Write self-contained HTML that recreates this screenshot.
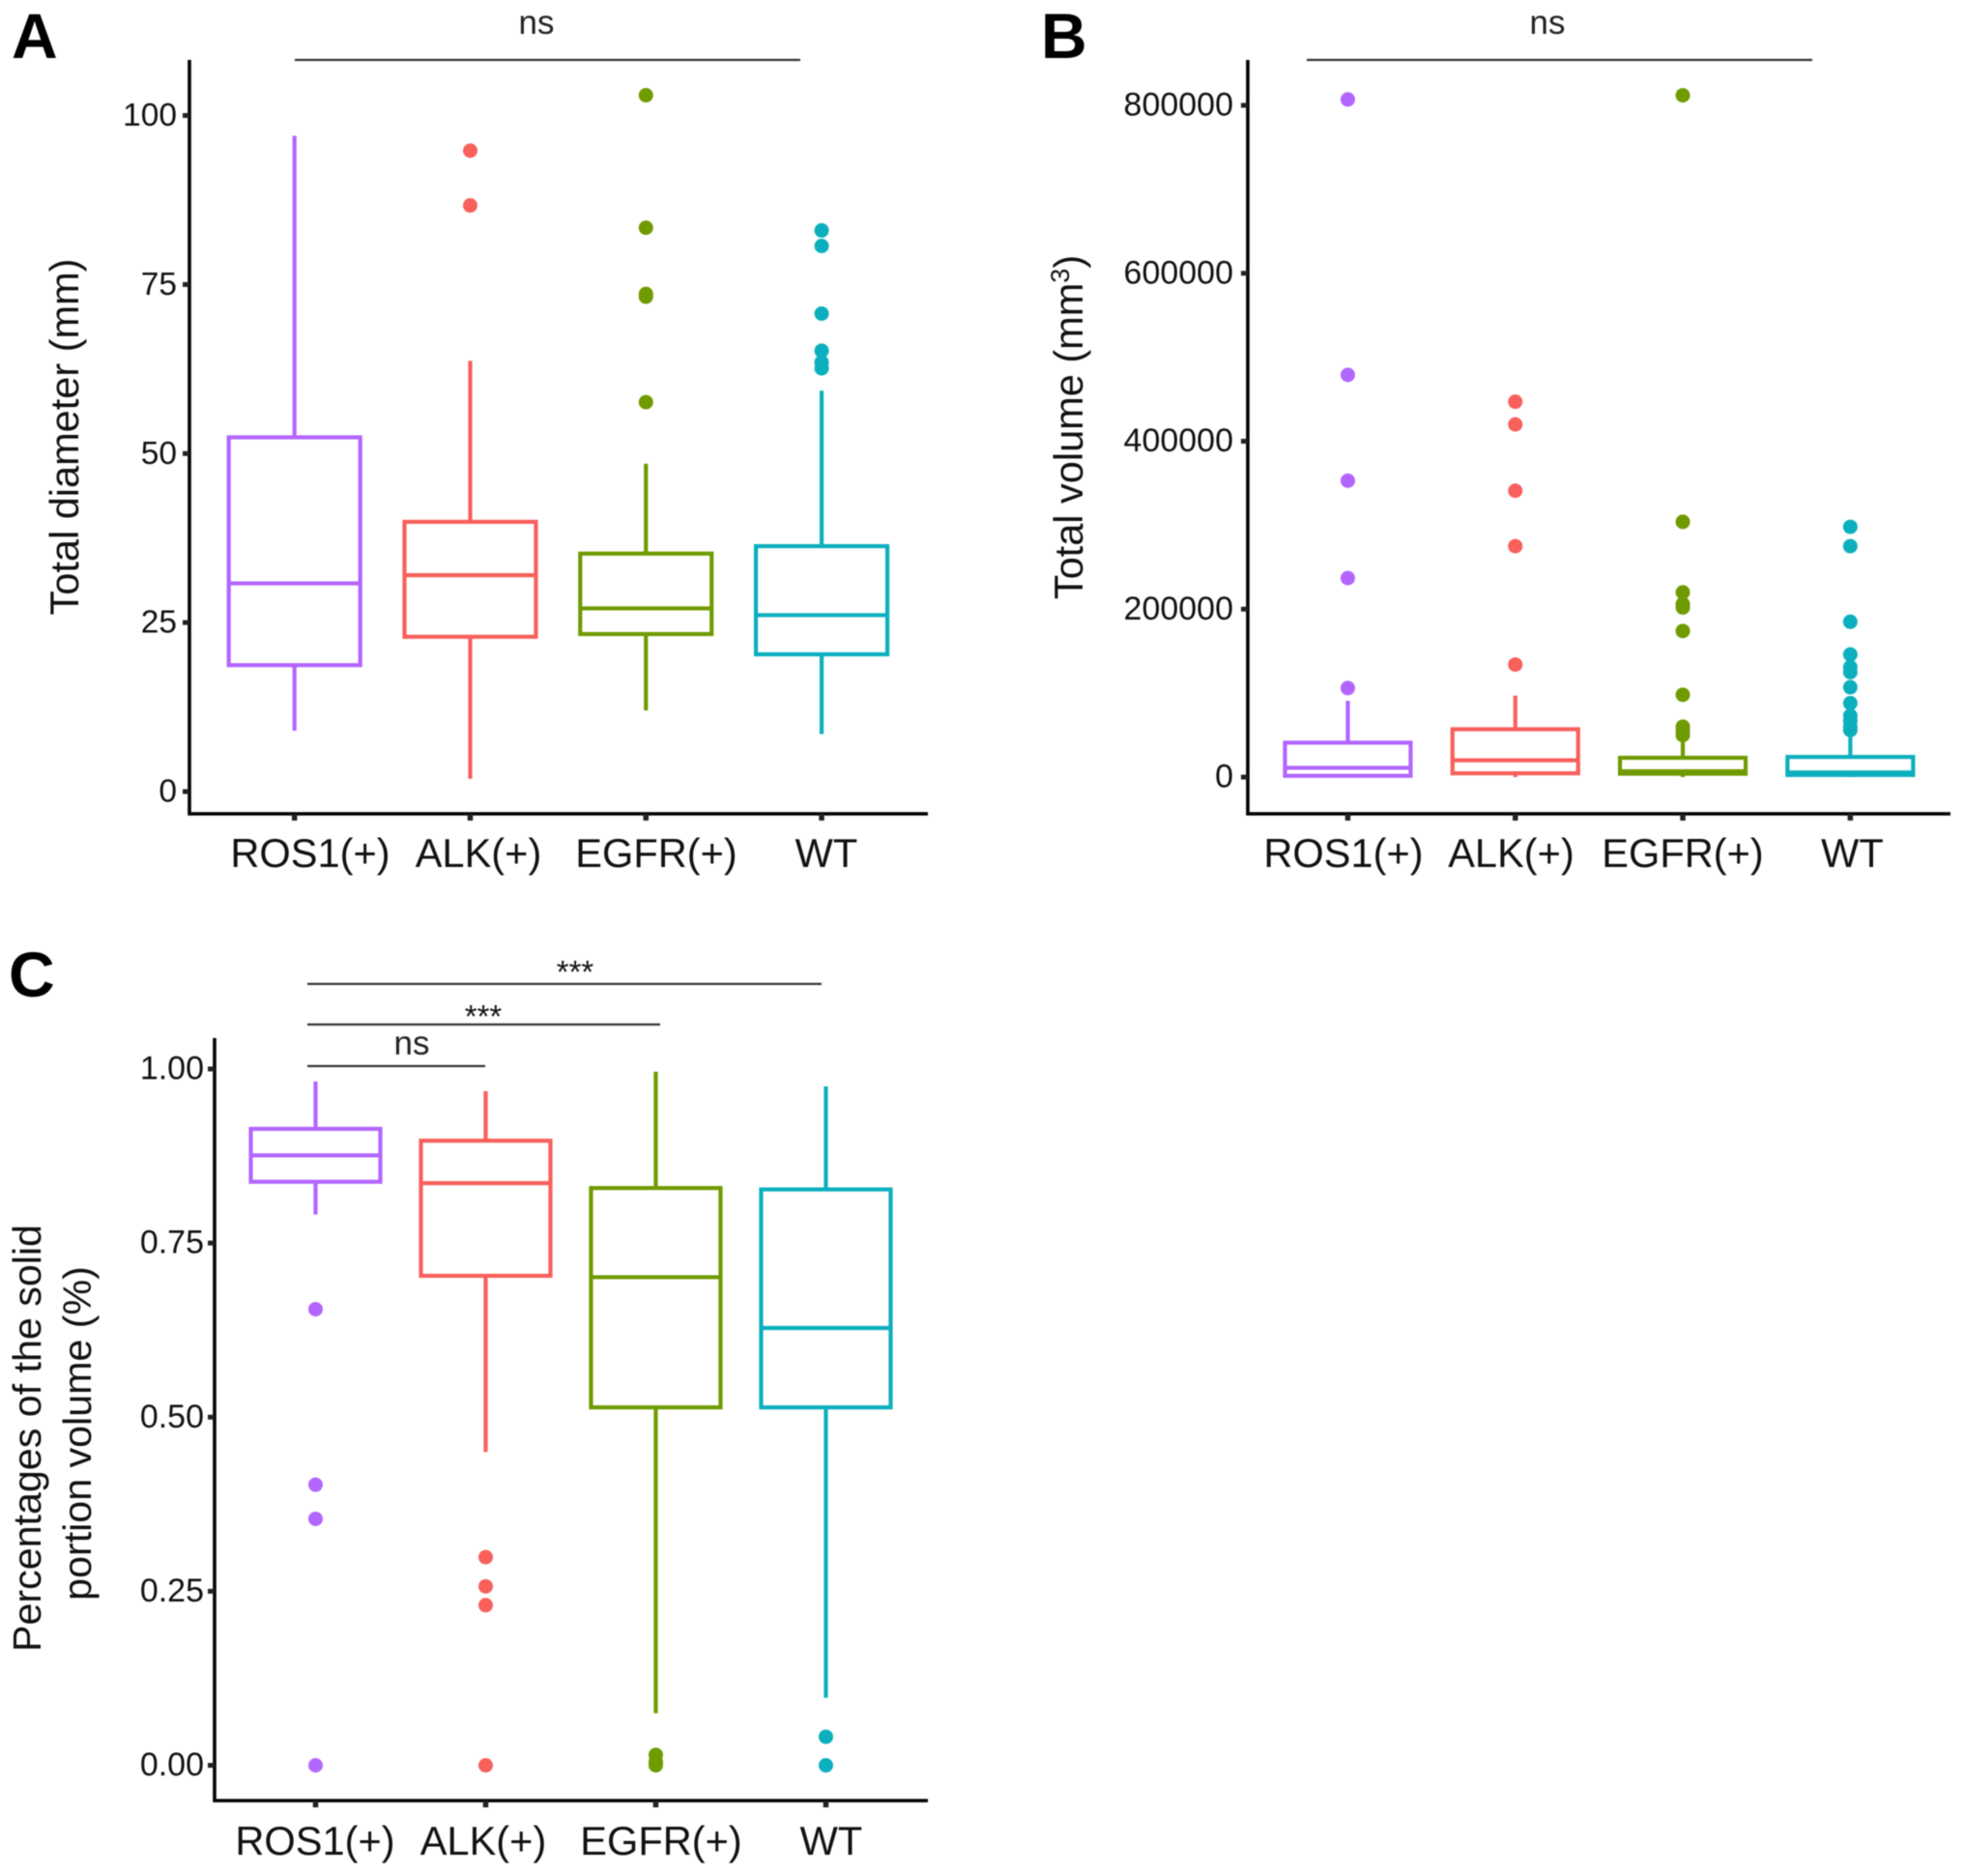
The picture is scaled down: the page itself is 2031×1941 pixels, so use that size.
<!DOCTYPE html>
<html lang="en">
<head>
<meta charset="utf-8">
<title>Box plots by mutation group</title>
<style>
html,body{margin:0;padding:0;background:#fff;}
svg{display:block;font-family:"Liberation Sans",Arial,sans-serif;filter:blur(0.6px);}
</style>
</head>
<body>
<svg id="figure" xmlns="http://www.w3.org/2000/svg" width="2031" height="1941" viewBox="0 0 2031 1941">
<rect x="0" y="0" width="2031" height="1941" fill="#ffffff"/>
<g id="panel-a"></g>
<g id="panel-b"></g>
<g id="panel-c"></g>

<text x="12" y="60" font-size="66" font-weight="bold" fill="#000">A</text>
<text x="1077" y="60" font-size="66" font-weight="bold" fill="#000">B</text>
<text x="9" y="1031" font-size="66" font-weight="bold" fill="#000">C</text>

<text transform="translate(81,452) rotate(-90)" text-anchor="middle" font-size="41.5" fill="#111">Total diameter (mm)</text>
<text transform="translate(1120,442) rotate(-90)" text-anchor="middle" font-size="41.5" fill="#111">Total volume (mm<tspan dy="-14" font-size="27">3</tspan><tspan dy="14">)</tspan></text>
<text transform="translate(42,1488) rotate(-90)" text-anchor="middle" font-size="41.2" fill="#111">Percentages of the solid</text>
<text transform="translate(94,1483) rotate(-90)" text-anchor="middle" font-size="41.2" fill="#111">portion volume (%)</text>

<g stroke="#333" stroke-width="2.2">
  <line x1="305" y1="62" x2="828" y2="62"/>
</g>
<text x="555" y="35" text-anchor="middle" font-size="35" fill="#222">ns</text>

<g stroke="#333" stroke-width="2.2">
  <line x1="1352" y1="62" x2="1875" y2="62"/>
</g>
<text x="1601" y="35" text-anchor="middle" font-size="35" fill="#222">ns</text>

<g stroke="#333" stroke-width="2.2">
  <line x1="318" y1="1018" x2="850" y2="1018"/>
  <line x1="318" y1="1060" x2="683" y2="1060"/>
  <line x1="318" y1="1103" x2="502" y2="1103"/>
</g>
<text x="595" y="1017" text-anchor="middle" font-size="33" fill="#111">***</text>
<text x="500" y="1063" text-anchor="middle" font-size="33" fill="#111">***</text>
<text x="426" y="1091" text-anchor="middle" font-size="35" fill="#222">ns</text>
</svg>

<script>
// Shared categories
const categories = ['ROS1(+)', 'ALK(+)', 'EGFR(+)', 'WT'];

// Panel A: total diameter (mm)
const diameterTicks = [0, 25, 50, 75, 100];
const diameterQ1 = [18.7, 22.9, 23.3, 20.3];
const diameterMedian = [30.8, 32, 27.1, 26.1];
const diameterQ3 = [52.4, 39.9, 35.2, 36.3];
const diameterWhiskerLow = [9, 1.9, 12, 8.5];
const diameterWhiskerHigh = [97, 63.7, 48.5, 59.3];
const diameterOutliers = [
  [],
  [94.8, 86.7],
  [103, 83.4, 73.6, 73.2, 57.6],
  [83, 80.7, 70.7, 65.2, 63.5, 62.6]
];

// Panel B: total volume (mm3)
const volumeTicks = [0, 200000, 400000, 600000, 800000];
const volumeQ1 = [1500, 4500, 4000, 2500];
const volumeMedian = [11000, 20000, 7000, 5500];
const volumeQ3 = [41000, 57000, 23000, 24000];
const volumeWhiskerLow = [0, 0, 0, 0];
const volumeWhiskerHigh = [91000, 97000, 50000, 50000];
const volumeOutliers = [
  [807000, 479000, 353000, 237000, 106000],
  [447000, 420000, 341000, 275000, 134000],
  [812000, 304000, 220000, 206000, 202000, 174000, 98000, 60000, 55000, 50000],
  [298000, 275000, 185000, 146000, 131000, 125000, 107000, 88000, 73000, 67000, 60000, 56000]
];

// Panel C: percentage of the solid portion volume
const solidTicks = [0, 0.25, 0.5, 0.75, 1];
const solidQ1 = [0.838, 0.703, 0.514, 0.514];
const solidMedian = [0.876, 0.836, 0.701, 0.628];
const solidQ3 = [0.914, 0.897, 0.829, 0.827];
const solidWhiskerLow = [0.791, 0.45, 0.075, 0.097];
const solidWhiskerHigh = [0.982, 0.968, 0.996, 0.975];
const solidOutliers = [
  [0.655, 0.403, 0.354, 0],
  [0.299, 0.257, 0.23, 0],
  [0.015, 0.005, 0],
  [0.041, 0]
];

const SVG_NS = 'http://www.w3.org/2000/svg';
const COLOR_ROS1 = '#b366ff';
const COLOR_ALK = '#f8605c';
const COLOR_EGFR = '#6f9b00';
const COLOR_WT = '#0cafbe';

function colorFor(i) {
  if (i === 0) return COLOR_ROS1;
  if (i === 1) return COLOR_ALK;
  if (i === 2) return COLOR_EGFR;
  return COLOR_WT;
}

function make(parent, tag, attrs) {
  const el = document.createElementNS(SVG_NS, tag);
  for (const k in attrs) el.setAttribute(k, attrs[k]);
  parent.appendChild(el);
  return el;
}

function drawPanel(p) {
  const root = document.getElementById(p.id);
  const ticks = p.ticks;
  const domainLow = ticks[0];
  const domainHigh = ticks[ticks.length - 1];
  const yScale = function (v) {
    return p.yLow + (v - domainLow) * (p.yHigh - p.yLow) / (domainHigh - domainLow);
  };
  const xScale = function (i) {
    return p.xFirst + i * p.xStep;
  };

  // axes
  const yAxis = make(root, 'line', { x1: p.left, y1: p.top, x2: p.left, y2: p.bottom + 1.5, stroke: '#000', 'stroke-width': 3.6 });
  
  
  const xAxis = make(root, 'line', { x1: p.left - 1.5, y1: p.bottom, x2: p.right, y2: p.bottom, stroke: '#000', 'stroke-width': 3.6 });
  
  

  // y ticks and labels
  ticks.forEach(function (t) {
    const y = yScale(t);
    const tick = make(root, 'line', { x1: p.left - 7, y1: y, x2: p.left, y2: y, stroke: '#222', 'stroke-width': 5 });
    
    
    const label = make(root, 'text', { x: p.tickLabelX, y: y + 10.5, 'text-anchor': 'end', 'font-size': p.tickFont, fill: '#111' });
    
    
    label.textContent = p.tickFormat(t);
  });

  // categories
  categories.forEach(function (name, i) {
    const x = xScale(i);
    const color = colorFor(i);

    const tick = make(root, 'line', { x1: x, y1: p.bottom, x2: x, y2: p.bottom + 7, stroke: '#222', 'stroke-width': 5.5 });
    
    

    let labelX = p.labelFirst + i * p.labelStep;
    if (i === 1) labelX += p.alkNudge;
    if (i === 2) labelX += p.egfrNudge;
    const label = make(root, 'text', { x: labelX, y: p.labelY, 'text-anchor': 'middle', 'font-size': 41.6, fill: '#111' });
    
    
    label.textContent = name;

    const q1 = yScale(p.q1[i]);
    const med = yScale(p.median[i]);
    const q3 = yScale(p.q3[i]);

    const upper = make(root, 'line', { x1: x, y1: q3, x2: x, y2: yScale(p.high[i]), stroke: color, 'stroke-width': 4.2 });
    
    

    const lower = make(root, 'line', { x1: x, y1: q1, x2: x, y2: yScale(p.low[i]), stroke: color, 'stroke-width': 4.2 });
    
    

    const box = make(root, 'rect', { x: x - p.halfWidth, y: q3, width: 2 * p.halfWidth, height: q1 - q3, fill: 'none', stroke: color, 'stroke-width': 4.2 });
    
    

    const medLine = make(root, 'line', { x1: x - p.halfWidth, y1: med, x2: x + p.halfWidth, y2: med, stroke: color, 'stroke-width': 4.2 });
    
    

    p.outliers[i].forEach(function (v) {
      const dot = make(root, 'circle', { cx: x, cy: yScale(v), r: 7.5, fill: color });
      
      
    });
  });
}

drawPanel({
  id: 'panel-a', key: 'diameter', left: 196, right: 960, top: 62, bottom: 842,
  yLow: 819, yHigh: 119.5, xFirst: 304.7, xStep: 181.8, halfWidth: 68,
  tickLabelX: 183, tickFont: 33.5, labelFirst: 321, labelStep: 178, alkNudge: -4, egfrNudge: 2, labelY: 897,
  ticks: diameterTicks, q1: diameterQ1, median: diameterMedian, q3: diameterQ3,
  low: diameterWhiskerLow, high: diameterWhiskerHigh, outliers: diameterOutliers,
  tickFormat: function (t) { return String(t); }
});

drawPanel({
  id: 'panel-b', key: 'volume', left: 1291, right: 2018, top: 62, bottom: 842,
  yLow: 804, yHigh: 109, xFirst: 1394.5, xStep: 173.3, halfWidth: 65,
  tickLabelX: 1276, tickFont: 34, labelFirst: 1390, labelStep: 175.5, alkNudge: -2, egfrNudge: 0, labelY: 897,
  ticks: volumeTicks, q1: volumeQ1, median: volumeMedian, q3: volumeQ3,
  low: volumeWhiskerLow, high: volumeWhiskerHigh, outliers: volumeOutliers,
  tickFormat: function (t) { return String(t); }
});

drawPanel({
  id: 'panel-c', key: 'solid', left: 222, right: 960, top: 1074, bottom: 1863,
  yLow: 1826.5, yHigh: 1106, xFirst: 326.5, xStep: 176, halfWidth: 67,
  tickLabelX: 211, tickFont: 34, labelFirst: 326, labelStep: 178, alkNudge: -4, egfrNudge: 2, labelY: 1919,
  ticks: solidTicks, q1: solidQ1, median: solidMedian, q3: solidQ3,
  low: solidWhiskerLow, high: solidWhiskerHigh, outliers: solidOutliers,
  tickFormat: function (t) { return t.toFixed(2); }
});
</script>
</body>
</html>
